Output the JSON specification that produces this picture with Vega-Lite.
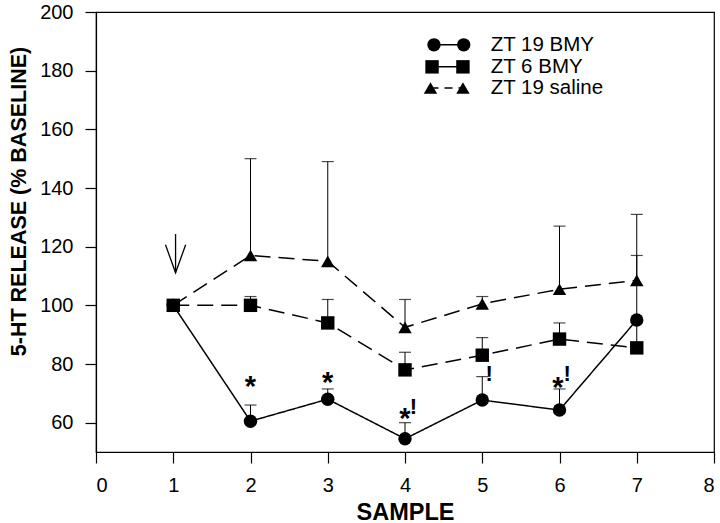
{
  "$schema": "https://vega.github.io/schema/vega-lite/v6.json",
  "width": 618,
  "height": 440,
  "autosize": "none",
  "padding": {"left": 96, "top": 12, "right": 6, "bottom": 71},
  "background": "white",
  "config": {
    "view": {"stroke": "black", "strokeWidth": 1.2},
    "font": "Liberation Sans",
    "axis": {
      "domainColor": "black", "tickColor": "black", "labelColor": "black", "titleColor": "black",
      "labelFont": "Liberation Sans", "titleFont": "Liberation Sans",
      "labelFontSize": 20, "titleFontWeight": "bold",
      "tickSize": 11, "grid": false, "domainWidth": 1.2, "tickWidth": 1.2, "labelPadding": 12
    }
  },
  "datasets": {
    "series": [
      {"sample": 1, "value": 100, "upper": null, "group": "ZT 19 saline"},
      {"sample": 2, "value": 117, "upper": 150, "group": "ZT 19 saline"},
      {"sample": 3, "value": 115, "upper": 149, "group": "ZT 19 saline"},
      {"sample": 4, "value": 92.5, "upper": 102, "group": "ZT 19 saline"},
      {"sample": 5, "value": 100.5, "upper": 103, "group": "ZT 19 saline"},
      {"sample": 6, "value": 105.5, "upper": 127, "group": "ZT 19 saline"},
      {"sample": 7, "value": 108.5, "upper": 131, "group": "ZT 19 saline"},
      {"sample": 1, "value": 100, "upper": null, "group": "ZT 6 BMY"},
      {"sample": 2, "value": 100, "upper": 103, "group": "ZT 6 BMY"},
      {"sample": 3, "value": 94, "upper": 102, "group": "ZT 6 BMY"},
      {"sample": 4, "value": 78, "upper": 84, "group": "ZT 6 BMY"},
      {"sample": 5, "value": 83, "upper": 89, "group": "ZT 6 BMY"},
      {"sample": 6, "value": 88.5, "upper": 94, "group": "ZT 6 BMY"},
      {"sample": 7, "value": 85.5, "upper": 117, "group": "ZT 6 BMY"},
      {"sample": 1, "value": 100, "upper": null, "group": "ZT 19 BMY"},
      {"sample": 2, "value": 60.5, "upper": 66, "group": "ZT 19 BMY"},
      {"sample": 3, "value": 68, "upper": 71.5, "group": "ZT 19 BMY"},
      {"sample": 4, "value": 54.5, "upper": 60, "group": "ZT 19 BMY"},
      {"sample": 5, "value": 67.7, "upper": 75.7, "group": "ZT 19 BMY"},
      {"sample": 6, "value": 64.3, "upper": 71.5, "group": "ZT 19 BMY"},
      {"sample": 7, "value": 95, "upper": null, "group": "ZT 19 BMY"}
    ],
    "legend": [
      {"group": "ZT 19 BMY", "x1": 4.375, "x2": 4.76, "xt": 5.11, "y": 188.8},
      {"group": "ZT 6 BMY", "x1": 4.35, "x2": 4.75, "xt": 5.11, "y": 181.3},
      {"group": "ZT 19 saline", "x1": 4.33, "x2": 4.75, "xt": 5.11, "y": 174.1}
    ],
    "stars": [
      {"x": 2, "y": 74.5, "t": "*"},
      {"x": 3, "y": 76, "t": "*"},
      {"x": 4, "y": 63.7, "t": "*"},
      {"x": 5.98, "y": 74.3, "t": "*"}
    ],
    "bangs": [
      {"x": 4.11, "y": 65.3, "t": "!"},
      {"x": 5.09, "y": 76.5, "t": "!"},
      {"x": 6.1, "y": 76.5, "t": "!"}
    ]
  },
  "layer": [
    {
      "data": {"values": [{"y": 99.3}]},
      "mark": {"type": "rule", "strokeDash": [2, 3], "color": "black", "strokeWidth": 1.2},
      "encoding": {"y": {"field": "y", "type": "quantitative", "scale": {"domain": [50, 200]}}}
    },
    {
      "data": {"name": "series"},
      "transform": [{"filter": "datum.upper != null"}],
      "mark": {"type": "rule", "color": "black", "strokeWidth": 1},
      "encoding": {
        "x": {"field": "sample", "type": "quantitative"},
        "y": {"field": "value", "type": "quantitative"},
        "y2": {"field": "upper"}
      }
    },
    {
      "data": {"name": "series"},
      "transform": [{"filter": "datum.upper != null"}],
      "mark": {"type": "tick", "orient": "horizontal", "color": "black", "size": 12, "thickness": 1.2},
      "encoding": {
        "x": {"field": "sample", "type": "quantitative"},
        "y": {"field": "upper", "type": "quantitative"}
      }
    },
    {
      "data": {"name": "series"},
      "mark": {"type": "line", "color": "black", "strokeWidth": 1.5},
      "encoding": {
        "x": {"field": "sample", "type": "quantitative"},
        "y": {"field": "value", "type": "quantitative"},
        "detail": {"field": "group"},
        "strokeDash": {"field": "group", "type": "nominal", "legend": null,
          "scale": {"domain": ["ZT 19 BMY", "ZT 6 BMY", "ZT 19 saline"], "range": [[1, 0], [16, 8], [16, 8]]}}
      }
    },
    {
      "data": {"name": "series"},
      "mark": {"type": "point", "filled": true, "color": "black", "opacity": 1, "size": 180},
      "encoding": {
        "x": {"field": "sample", "type": "quantitative"},
        "y": {"field": "value", "type": "quantitative"},
        "shape": {"field": "group", "type": "nominal", "legend": null,
          "scale": {"domain": ["ZT 19 BMY", "ZT 6 BMY", "ZT 19 saline"], "range": ["circle", "square", "triangle-up"]}}
      }
    },
    {
      "data": {"name": "stars"},
      "mark": {"type": "text", "font": "Liberation Sans", "fontWeight": "bold", "fontSize": 29, "baseline": "middle", "align": "center", "color": "black", "dy": 7},
      "encoding": {
        "x": {"field": "x", "type": "quantitative"},
        "y": {"field": "y", "type": "quantitative"},
        "text": {"field": "t"}
      }
    },
    {
      "data": {"name": "bangs"},
      "mark": {"type": "text", "font": "Liberation Sans", "fontWeight": "bold", "fontSize": 22, "baseline": "middle", "align": "center", "color": "black"},
      "encoding": {
        "x": {"field": "x", "type": "quantitative"},
        "y": {"field": "y", "type": "quantitative"},
        "text": {"field": "t"}
      }
    },
    {
      "data": {"values": [{"x": 1.03, "top": 124.3, "tip": 111.1}]},
      "mark": {"type": "rule", "color": "black", "strokeWidth": 1.3},
      "encoding": {
        "x": {"field": "x", "type": "quantitative"},
        "y": {"field": "top", "type": "quantitative"},
        "y2": {"field": "tip"}
      }
    },
    {
      "data": {"values": [{"x": 1.03, "tip": 111.1}]},
      "mark": {"type": "point", "shape": "M-0.36,-1L0,0L0.36,-1", "filled": false, "color": "black", "strokeWidth": 1.3, "size": 3136, "opacity": 1},
      "encoding": {
        "x": {"field": "x", "type": "quantitative"},
        "y": {"field": "tip", "type": "quantitative"}
      }
    },
    {
      "data": {"name": "legend"},
      "mark": {"type": "rule", "color": "black", "strokeWidth": 1.5},
      "encoding": {
        "x": {"field": "x1", "type": "quantitative"},
        "x2": {"field": "x2"},
        "y": {"field": "y", "type": "quantitative"},
        "strokeDash": {"field": "group", "type": "nominal", "legend": null,
          "scale": {"domain": ["ZT 19 BMY", "ZT 6 BMY", "ZT 19 saline"], "range": [[1, 0], [1, 0], [8, 6]]}}
      }
    },
    {
      "data": {"name": "legend"},
      "mark": {"type": "point", "filled": true, "color": "black", "opacity": 1, "size": 180},
      "encoding": {
        "x": {"field": "x1", "type": "quantitative"},
        "y": {"field": "y", "type": "quantitative"},
        "shape": {"field": "group", "type": "nominal", "legend": null}
      }
    },
    {
      "data": {"name": "legend"},
      "mark": {"type": "point", "filled": true, "color": "black", "opacity": 1, "size": 180},
      "encoding": {
        "x": {"field": "x2", "type": "quantitative"},
        "y": {"field": "y", "type": "quantitative"},
        "shape": {"field": "group", "type": "nominal", "legend": null}
      }
    },
    {
      "data": {"name": "legend"},
      "mark": {"type": "text", "font": "Liberation Sans", "fontSize": 20.5, "align": "left", "baseline": "middle", "color": "black"},
      "encoding": {
        "x": {"field": "xt", "type": "quantitative"},
        "y": {"field": "y", "type": "quantitative"},
        "text": {"field": "group"}
      }
    }
  ],
  "resolve": {"scale": {"strokeDash": "independent"}},
  "encoding": {
    "x": {"field": "sample", "type": "quantitative",
      "scale": {"domain": [0, 8], "nice": false, "zero": false},
      "axis": {"title": "SAMPLE", "titleFontSize": 23.5, "values": [0, 1, 2, 3, 4, 5, 6, 7, 8], "format": "d", "titlePadding": 5}},
    "y": {"field": "value", "type": "quantitative",
      "scale": {"domain": [50, 200], "nice": false, "zero": false},
      "axis": {"title": "5-HT RELEASE (% BASELINE)", "titleFontSize": 21.5, "values": [60, 80, 100, 120, 140, 160, 180, 200],
        "titleX": -71, "titleY": 189, "titleBaseline": "alphabetic", "titleAngle": 270, "titleAlign": "center"}}
  }
}
